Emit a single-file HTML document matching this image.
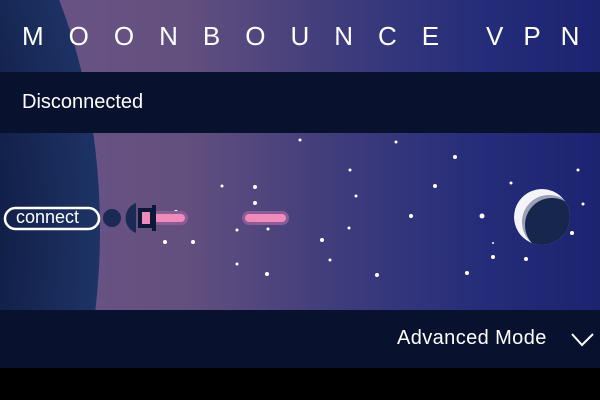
<!DOCTYPE html>
<html><head><meta charset="utf-8"><style>
body{margin:0;width:600px;height:400px;overflow:hidden;background:#000;font-family:"Liberation Sans",sans-serif}
#app{position:relative;width:600px;height:400px;overflow:hidden}
.txt{position:absolute;color:#fff;white-space:nowrap}
</style></head><body>
<div id="app">
<svg width="600" height="400" style="position:absolute;left:0;top:0">
<defs>
<linearGradient id="bg" x1="0" y1="0" x2="1" y2="0">
<stop offset="0" stop-color="#6a5488"/><stop offset="0.3" stop-color="#64507f"/>
<stop offset="0.55" stop-color="#403d7c"/><stop offset="0.8" stop-color="#252d7a"/><stop offset="1" stop-color="#1c2370"/>
</linearGradient>
<radialGradient id="pl" cx="0.4" cy="0.5" r="0.6">
<stop offset="0.6" stop-color="#0f1c42"/><stop offset="1" stop-color="#1e3366"/>
</radialGradient>
<clipPath id="scene"><rect x="0" y="0" width="600" height="368"/></clipPath>
<clipPath id="moonclip"><circle cx="542" cy="217" r="28"/></clipPath>
</defs>
<rect x="0" y="0" width="600" height="368" fill="url(#bg)"/>
<ellipse cx="-150" cy="230" rx="250" ry="420" fill="url(#pl)" clip-path="url(#scene)"/>
<g fill="#fff">
<circle cx="396" cy="142" r="1.5"/><circle cx="455" cy="157" r="2"/><circle cx="350" cy="170" r="1.5"/>
<circle cx="222" cy="186" r="1.5"/><circle cx="255" cy="187" r="2"/><circle cx="255" cy="203" r="2"/>
<circle cx="268" cy="229" r="1.5"/><circle cx="356" cy="196" r="1.5"/><circle cx="435" cy="186" r="2"/>
<circle cx="411" cy="216" r="2"/><circle cx="482" cy="216" r="2.5"/><circle cx="176" cy="212" r="2"/>
<circle cx="165" cy="242" r="2"/><circle cx="193" cy="242" r="2"/><circle cx="237" cy="264" r="1.5"/>
<circle cx="267" cy="274" r="2"/><circle cx="322" cy="240" r="2"/><circle cx="330" cy="260" r="1.5"/>
<circle cx="349" cy="228" r="1.5"/><circle cx="377" cy="275" r="2"/><circle cx="467" cy="273" r="2"/>
<circle cx="493" cy="243" r="1"/><circle cx="493" cy="257" r="2"/><circle cx="526" cy="259" r="2"/>
<circle cx="511" cy="183" r="1.5"/><circle cx="583" cy="204" r="1.5"/><circle cx="572" cy="233" r="2"/>
<circle cx="578" cy="170" r="1.5"/><circle cx="300" cy="140" r="1.5"/><circle cx="237" cy="230" r="1.5"/>
</g>
<g clip-path="url(#moonclip)">
<circle cx="542" cy="217" r="28" fill="#f4f4f8"/>
<circle cx="549" cy="222" r="27" fill="#9aa0b8"/>
<circle cx="552" cy="225" r="27" fill="#16264d"/>
</g>
<rect x="147" y="211" width="41" height="14" rx="7" fill="#8a5c96"/>
<rect x="150" y="214" width="35" height="8" rx="4" fill="#ef8bbb"/>
<rect x="242" y="211" width="47" height="14" rx="7" fill="#8a5c96"/>
<rect x="245" y="214" width="41" height="8" rx="4" fill="#ef8bbb"/>
<g>
<circle cx="112" cy="218" r="9" fill="#1a2a55"/>
<path d="M136,203 A16,16 0 0 0 136,233 Z" fill="#1a2a55"/>
<rect x="138" y="208" width="14" height="20" fill="#0c1838"/>
<rect x="142" y="212" width="8" height="12" fill="#ef8bbb"/>
<rect x="152" y="205" width="4" height="26" fill="#0c1838"/>
</g>
<rect x="0" y="72" width="600" height="61" fill="#08122e"/>
<rect x="0" y="310" width="600" height="58" fill="#08122e"/>
<rect x="5" y="208" width="94" height="21" rx="10.5" fill="none" stroke="#fff" stroke-width="2.5"/>
<path d="M572,334 L582,345 L593,334" fill="none" stroke="#fff" stroke-width="2"/>
</svg>
<div class="txt" style="left:22px;top:21px;font-size:26px;letter-spacing:25px">MOONBOUNCE</div>
<div class="txt" style="left:486px;top:21px;font-size:26px;letter-spacing:20px">VPN</div>
<div class="txt" style="left:22px;top:91px;font-size:20px">Disconnected</div>
<div class="txt" style="left:16px;top:207px;font-size:18px">connect</div>
<div class="txt" style="left:397px;top:327px;font-size:20px;letter-spacing:0.4px">Advanced Mode</div>
</div>
</body></html>
